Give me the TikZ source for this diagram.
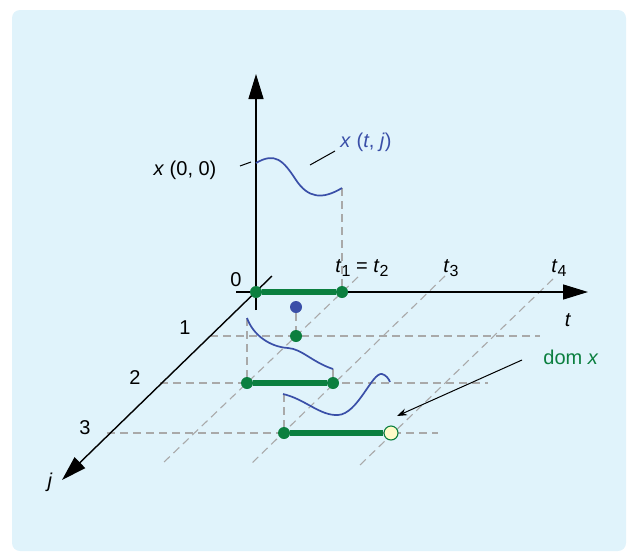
\documentclass[tikz,border=0pt]{standalone}
\usepackage{fontspec}
\setmainfont{Liberation Sans}
\usetikzlibrary{arrows.meta}
\definecolor{panel}{HTML}{E0F3FB}
\definecolor{domgreen}{HTML}{0B7F3F}
\definecolor{flowblue}{HTML}{3A4FA8}
\definecolor{gridgray}{HTML}{A9A9A9}
\definecolor{opendot}{HTML}{FFFBC8}
\newcommand{\lowidx}[1]{\raisebox{-0.35ex}{\fontsize{16}{16}\selectfont #1}}

\begin{document}
\begin{tikzpicture}[
  x=1pt, y=-1pt, >={Stealth},
  every node/.style={font=\fontsize{20}{24}\selectfont, inner sep=1pt},
  axis/.style={line width=1.4pt, -{Triangle[length=25pt,width=15pt]}},
  grid/.style={gridgray, line width=1.1pt, dash pattern=on 8pt off 5pt},
  flow/.style={flowblue, line width=1.7pt},
  jump/.style={domgreen, line width=6pt},
  gdot/.style={circle, fill=domgreen, inner sep=0pt, minimum size=12pt},
  bdot/.style={circle, fill=flowblue, inner sep=0pt, minimum size=12pt},
  odot/.style={circle, draw=domgreen, fill=opendot, line width=1.1pt, inner sep=0pt, minimum size=14pt}
]
\fill[panel, rounded corners=8pt] (12,10) rectangle (626,551);
\useasboundingbox (0,0) rectangle (634,552);

% grid
\draw[grid] (210,336) -- (540,336);
\draw[grid] (160,383) -- (488,383);
\draw[grid] (107,433) -- (438,433);
\draw[grid] (358,277) -- (163,463);
\draw[grid] (445,276) -- (252,463);
\draw[grid] (553,279) -- (360,465);
\draw[grid] (342,188) -- (342,292);
\draw[grid] (247,318) -- (247,383);
\draw[grid] (284,394) -- (284,433);
\draw[gridgray, line width=1.1pt] (333,369) -- (333,383);

% axes
\coordinate (xlow) at (256,310);
\coordinate (xtop) at (256,74);
\coordinate (tlow) at (236,292);
\coordinate (ttop) at (588,292);
\coordinate (jlow) at (272,276);
\coordinate (jtop) at (62,480);
\draw[axis] (xlow) -- (xtop);
\draw[axis] (tlow) -- (ttop);
\draw[axis] (jlow) -- (jtop);

% solution pieces
\node[gdot] (a0) at (256,292) {};
\node[gdot] (b0) at (342,292) {};
\node[bdot] (c1) at (296,307) {};
\node[gdot] (a1) at (296,336) {};
\node[gdot] (a2) at (247,383) {};
\node[gdot] (b2) at (333,383) {};
\node[gdot] (a3) at (284,433) {};
\node[odot] (b3) at (391,433) {};
\draw[jump] (a0) -- (b0);
\draw[jump] (a2) -- (b2);
\draw[jump] (a3) -- (b3);
\draw[grid] (c1) -- (a1);

\draw[flow] (256,163) .. controls (275,152) and (283,160) .. (296,180)
  .. controls (308,198) and (322,200) .. (342,188);
\draw[flow] (247,318) .. controls (253,335) and (270,347) .. (288,348)
  .. controls (302,349) and (312,362) .. (333,369);
\draw[flow] (283,394) .. controls (305,399) and (320,416) .. (338,415)
  .. controls (358,414) and (372,372) .. (382,374)
  .. controls (386,375) and (389,379) .. (390,382);

% labels
\node (x00) at (185,170) {\textit{x} (0, 0)};
\node[text=flowblue] (xtj) at (366,142) {\textit{x} (\textit{t}, \textit{j})};
\coordinate (x00a) at (240,166);
\coordinate (x00b) at (251,162);
\coordinate (xtja) at (310,165);
\coordinate (xtjb) at (335,151);
\draw[line width=1pt] (x00a) -- (x00b);
\draw[line width=1pt] (xtja) -- (xtjb);
\node (zero) at (236,280) {0};
\node (t12) at (362,268) {\textit{t}\lowidx{1} = \textit{t}\lowidx{2}};
\node (t3) at (451,268) {\textit{t}\lowidx{3}};
\node (t4) at (559,268) {\textit{t}\lowidx{4}};
\node (tlab) at (568,320) {\textit{t}};
\node (jlab) at (50,482) {\textit{j}};
\node (j1) at (185,328) {1};
\node (j2) at (135,378) {2};
\node (j3) at (85,428) {3};
\node[text=domgreen] (dom) at (571,357) {dom \textit{x}};
\coordinate (doma) at (522,360);
\coordinate (domb) at (397,416);
\draw[line width=1pt, -{Stealth[length=10pt,width=7pt]}] (doma) -- (domb);
\end{tikzpicture}
\end{document}
